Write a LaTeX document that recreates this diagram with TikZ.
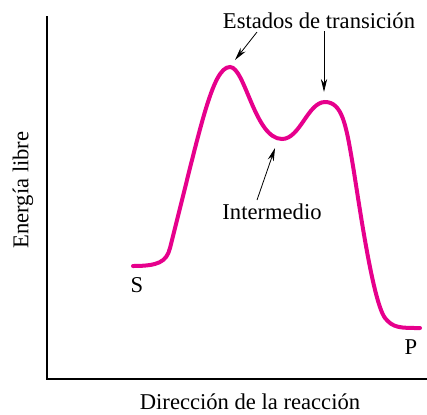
\documentclass[tikz,border=0pt]{standalone}
\usepackage{fontspec}
\setmainfont{Liberation Serif}
\usetikzlibrary{arrows.meta, positioning}

\definecolor{curvemag}{RGB}{230,0,140}

\begin{document}
\begin{tikzpicture}[
                        x = 0.5pt, y = -0.5pt,
                        font        = \fontsize{11.3}{13}\selectfont,
                        lbl/.style  = {inner sep=1pt},
                        axis/.style = {line width=1pt},
                        path/.style = {line width=2pt, curvemag, line cap=round},
                        ar/.style   = {-{Stealth[length=2.3mm, width=1.1mm]}, thin}
                  ]
                  \useasboundingbox (0,0) rectangle (427,414);

                  % axes
                  \coordinate (top)    at (46.5,16);
                  \coordinate (origin) at (46.5,379);
                  \coordinate (right)  at (427,379);
                  \draw[axis] (top) -- (origin) -- (right);

                  % reaction path
                  \draw[path] (133,266) .. controls (158,266) and (166.5,262) .. (170,248)
                        .. controls (200,130) and (212,67) .. (230,67)
                        .. controls (245,67) and (255,139) .. (282,139)
                        .. controls (300,139) and (308,102) .. (325,102)
                        .. controls (342,102) and (346,125) .. (352,160)
                        .. controls (358,195) and (372,300) .. (385,318)
                        .. controls (393,328) and (400,328) .. (420,328);

                  \coordinate (ts1) at (235,60);
                  \coordinate (ts2) at (324,92);
                  \coordinate (int) at (275,148);

                  % labels
                  \node[lbl] (estados) at (319,21)  {Estados de transición};
                  \node[lbl] (inter)   at (272,212) {Intermedio};
                  \node[lbl] (S)       at (137,285) {S};
                  \node[lbl] (P)       at (411,347) {P};
                  \node[lbl, rotate=90] (ylab) at (23,190)  {Energía libre};
                  \node[lbl]            (xlab) at (250,402) {Dirección de la reacción};

                  \coordinate (e1) at (257,32);
                  \coordinate (i1) at (257,200);
                  \draw[ar] (e1) -- (ts1);
                  \draw[ar] (estados.south -| ts2) -- (ts2);
                  \draw[ar] (i1) -- (int);
            \end{tikzpicture}
\end{document}
